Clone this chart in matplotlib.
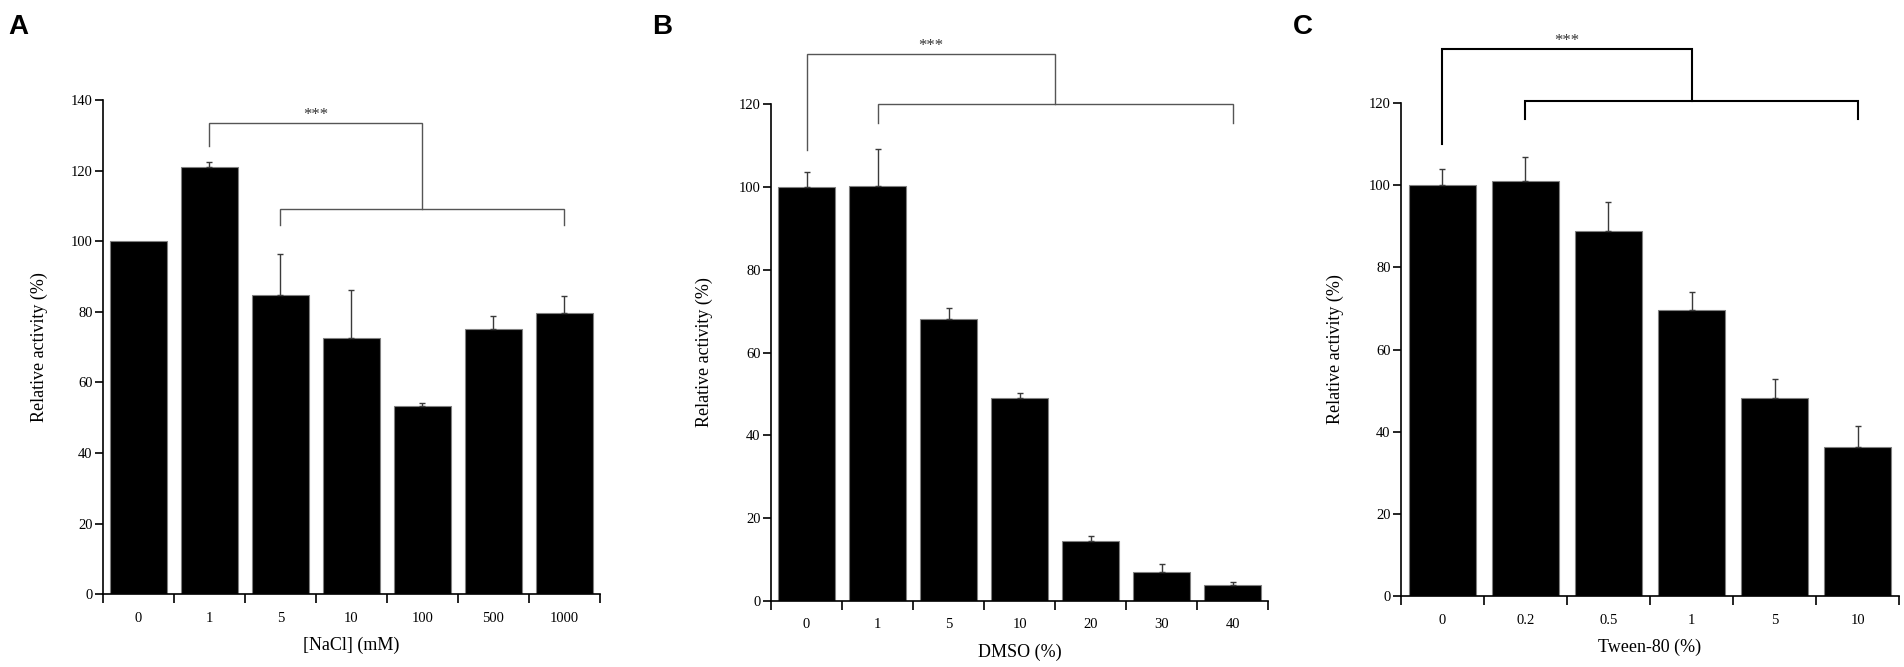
import numpy as np
import matplotlib
matplotlib.use('Agg')
from matplotlib import pyplot as plt

plt.rcParams['font.family'] = ['Liberation Serif', 'DejaVu Serif']

# Panel A: NaCl
nacl_labels = ['0', '1', '5', '10', '100', '500', '1000']
nacl_vals = [100, 121.0, 84.9, 72.7, 53.2, 75.2, 79.7]
nacl_err = [0, 1.4, 11.5, 13.6, 0.9, 3.6, 4.7]

# Panel B: DMSO
dmso_labels = ['0', '1', '5', '10', '20', '30', '40']
dmso_vals = [100.0, 100.3, 68.1, 48.9, 14.4, 7.1, 3.8]
dmso_err = [3.7, 8.9, 2.6, 1.3, 1.2, 1.9, 0.7]

# Panel C: Tween-80
tween_labels = ['0', '0.2', '0.5', '1', '5', '10']
tween_vals = [100.1, 101.0, 88.8, 69.6, 48.1, 36.3]
tween_err = [3.7, 5.8, 7.0, 4.3, 4.7, 5.2]

# brackets: (x_left, x_right, y_line, y_left_end, y_right_end)
nacl_brackets = [(1, 4, 133.5, 127, 109), (2, 6, 109, 104.5, 104.5)]
dmso_brackets = [(0, 3.5, 132, 109, 120), (1, 6, 120, 115.5, 115.5)]
tween_brackets = [(0, 3, 133, 110, 120.5), (1, 5, 120.5, 116, 116)]


def draw_panel(ax, labels, vals, errs, ymax, xlabel, brackets, br_color, br_lw, ylab_x):
    n = len(labels)
    x = np.arange(n)
    ax.bar(x, vals, width=0.8, color='black', edgecolor='#808080', linewidth=0.8, zorder=2)
    # only upper error bars, skip bars without error
    xe = [x[i] for i in range(n) if errs[i] > 0]
    ye = [vals[i] for i in range(n) if errs[i] > 0]
    ee = [errs[i] for i in range(n) if errs[i] > 0]
    ax.errorbar(xe, ye, yerr=[np.zeros(len(ee)), ee], fmt='none', ecolor='#3a3a3a',
                elinewidth=1.0, capsize=2.5, capthick=1.0, zorder=3)
    ax.set_xlim(-0.5, n - 0.5)
    ax.set_ylim(0, ymax)
    ax.set_yticks(np.arange(0, ymax + 1, 20))
    ax.set_xticks(np.arange(n + 1) - 0.5)
    ax.set_xticklabels([])
    ax.set_xticks(x, minor=True)
    ax.set_xticklabels(labels, minor=True)
    ax.tick_params(axis='x', which='major', direction='out', length=6.5, width=1.2)
    ax.tick_params(axis='x', which='minor', length=0, pad=12.5, labelsize=10.5)
    ax.tick_params(axis='y', direction='out', length=6, width=1.2, pad=1.5, labelsize=10.5)
    for s in ['top', 'right']:
        ax.spines[s].set_visible(False)
    for s in ['left', 'bottom']:
        ax.spines[s].set_linewidth(1.2)
    ax.set_xlabel(xlabel, fontsize=13)
    ax.set_ylabel('Relative activity (%)', fontsize=13)
    ax.xaxis.set_label_coords(0.5, -0.086)
    ax.yaxis.set_label_coords(ylab_x, 0.5)
    # significance brackets
    for xl, xr, yl, yle, yre in brackets:
        ax.plot([xl, xl, xr, xr], [yle, yl, yl, yre], color=br_color, lw=br_lw,
                clip_on=False, solid_joinstyle='miter')
    xl, xr, yl = brackets[0][0], brackets[0][1], brackets[0][2]
    ax.text((xl + xr) / 2, yl + 1.0, '***', ha='center', va='baseline', fontsize=12,
            color='#333333')


fig = plt.figure(figsize=(19.04, 6.67), dpi=100)
axA = fig.add_axes([0.0541, 0.109, 0.261, 0.741])
axB = fig.add_axes([0.405, 0.099, 0.261, 0.745])
axC = fig.add_axes([0.7358, 0.106, 0.2616, 0.740])

draw_panel(axA, nacl_labels, nacl_vals, nacl_err, 140, '[NaCl] (mM)', nacl_brackets,
           '#555555', 1.0, -0.11)
draw_panel(axB, dmso_labels, dmso_vals, dmso_err, 120, 'DMSO (%)', dmso_brackets,
           '#555555', 1.0, -0.116)
draw_panel(axC, tween_labels, tween_vals, tween_err, 120, 'Tween-80 (%)', tween_brackets,
           'black', 1.5, -0.115)

# panel letters
for xpos, letter in [(8, 'A'), (652, 'B'), (1293, 'C')]:
    fig.text(xpos / 1904, 1 - 14 / 667, letter, ha='left', va='top', fontsize=20,
             fontweight='bold', family='Liberation Sans')

fig.savefig('out.png', dpi=100)
